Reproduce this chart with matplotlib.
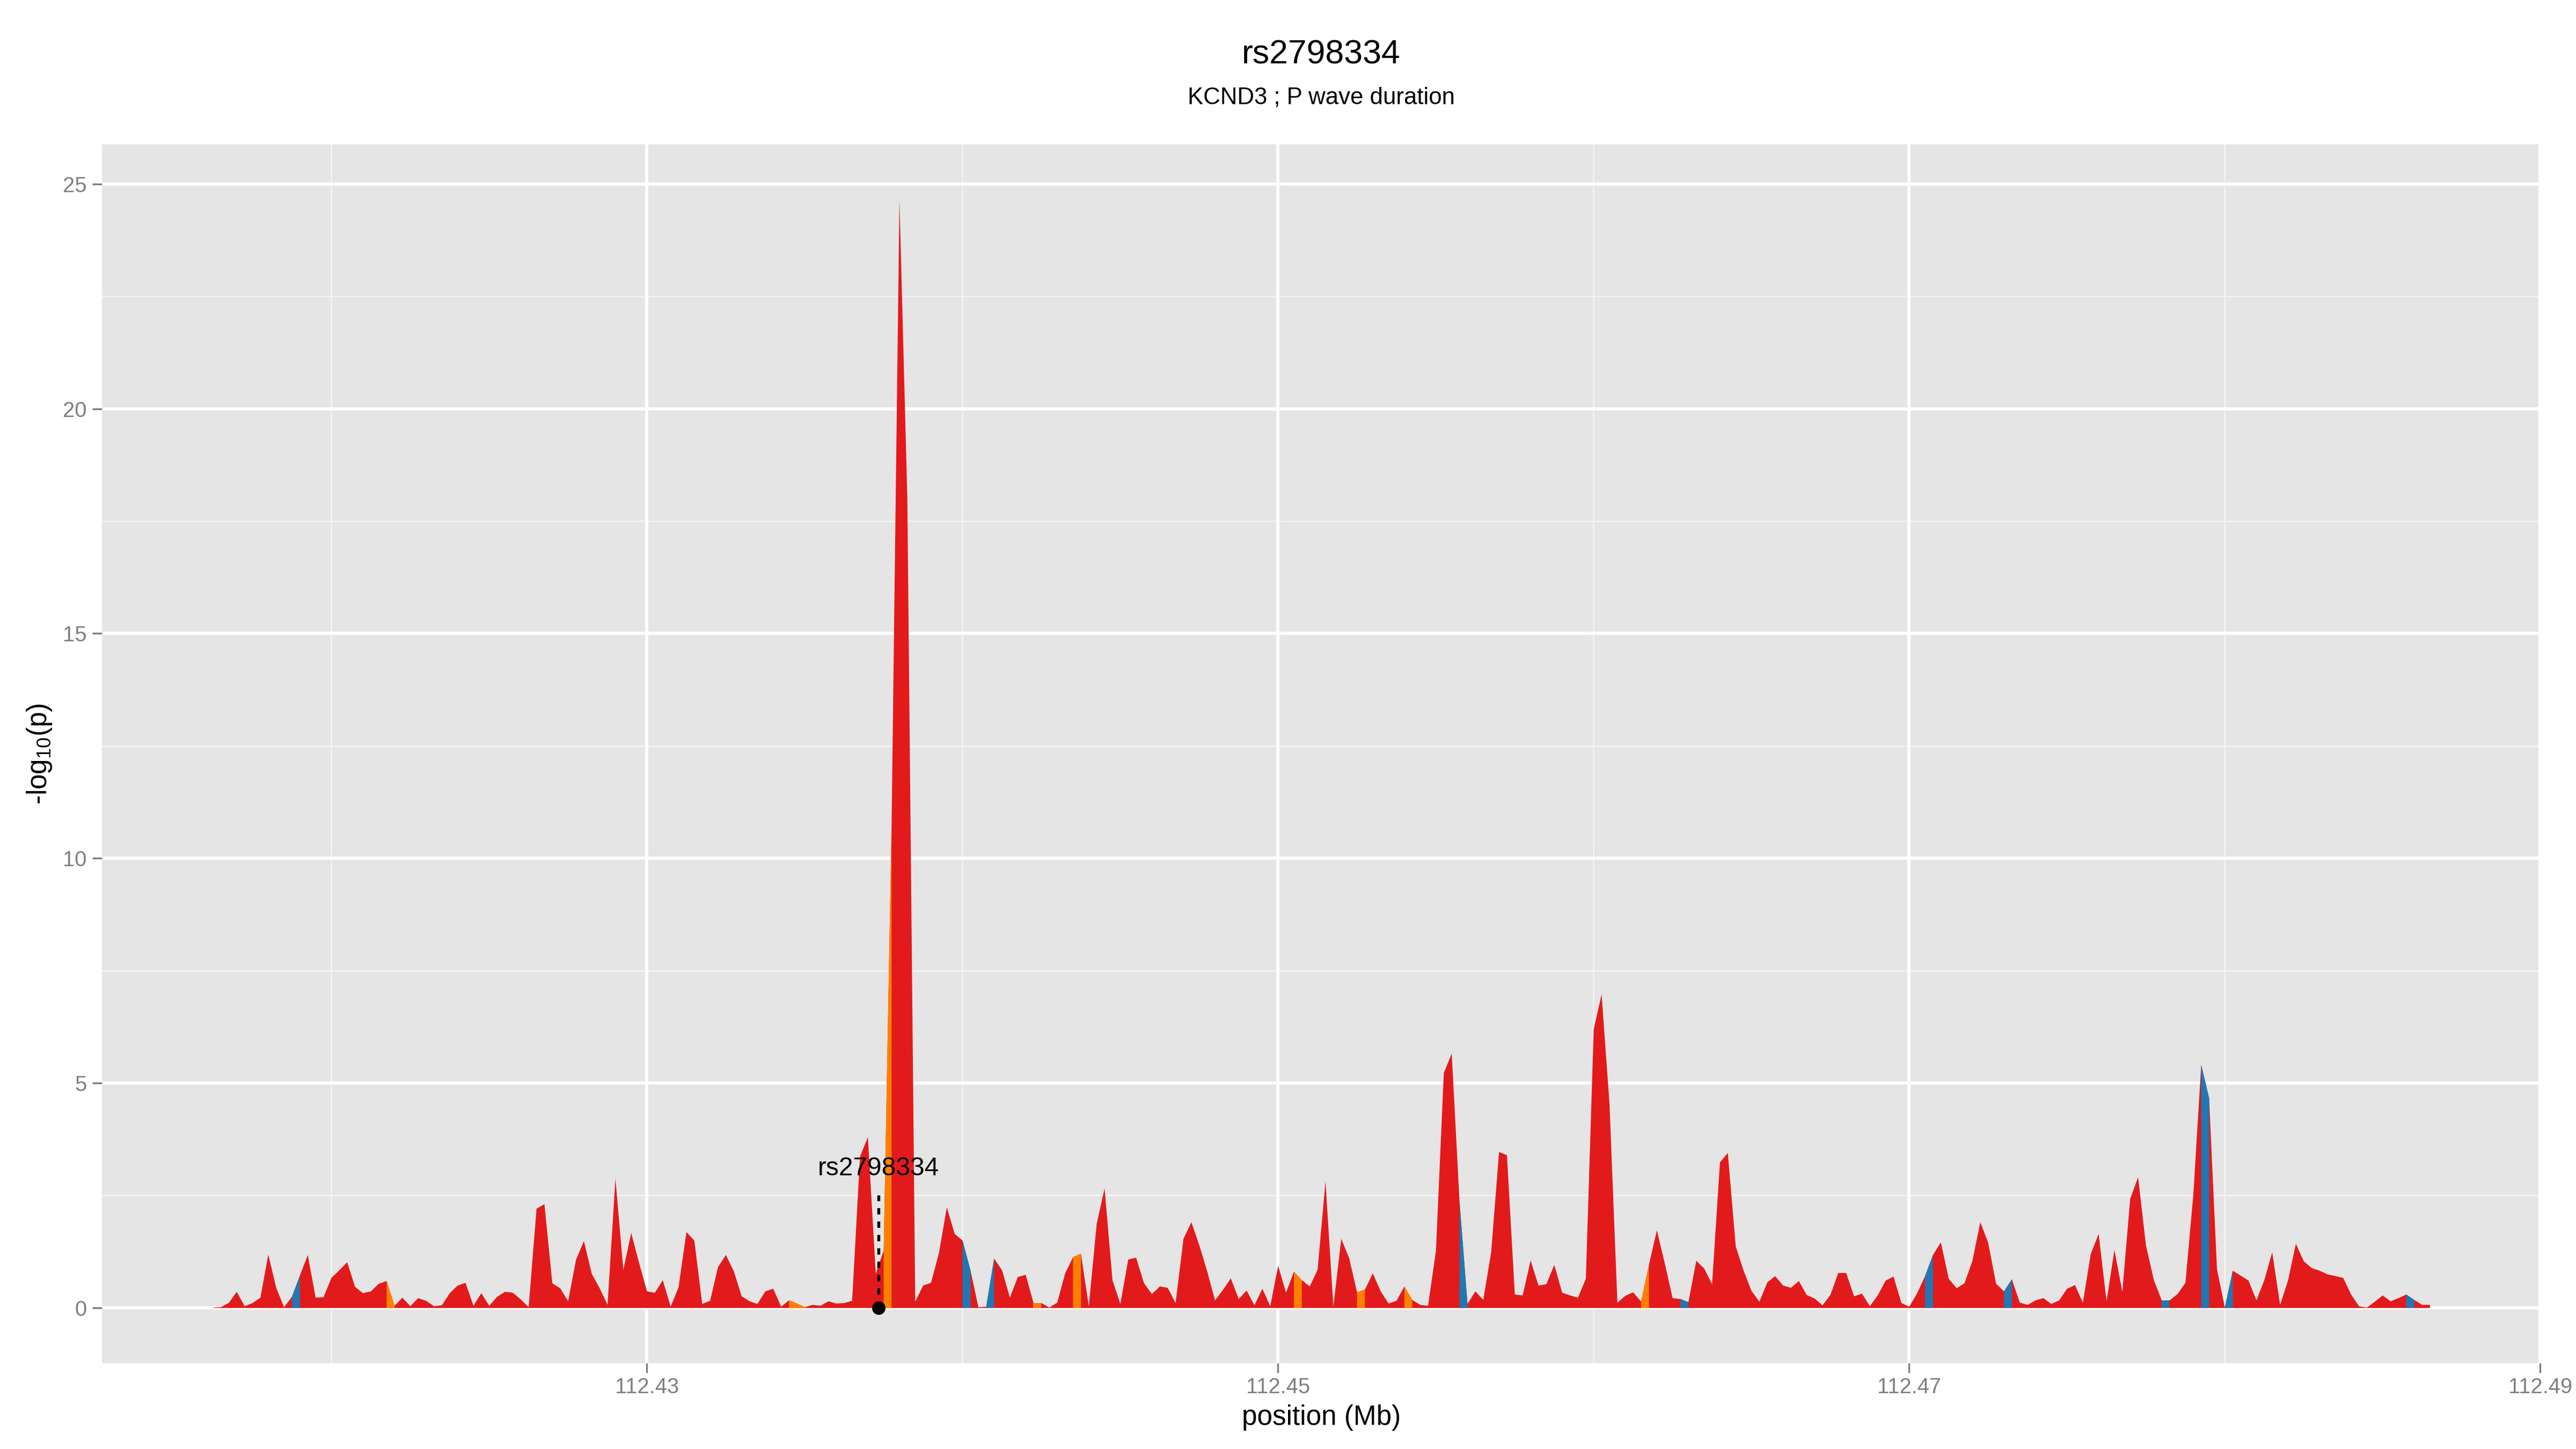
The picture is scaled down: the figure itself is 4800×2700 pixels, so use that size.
import numpy as np
import matplotlib
matplotlib.use('Agg')
import matplotlib.pyplot as plt
from matplotlib.ticker import FixedLocator, FixedFormatter

plt.rcParams['font.family'] = ['Liberation Sans', 'DejaVu Sans']
plt.rcParams['mathtext.fontset'] = 'custom'
plt.rcParams['mathtext.rm'] = 'Liberation Sans'
plt.rcParams['mathtext.it'] = 'Liberation Sans:italic'

# ---------------- data ----------------
title = 'rs2798334'
subtitle = 'KCND3 ; P wave duration'
x_label = 'position (Mb)'
y_label = r'-log$_{\mathregular{10}}$(p)'

pos_start_mb = 112.41625   # first SNP position (Mb)
pos_step_mb = 0.00025      # spacing of SNP grid (Mb)

logp = [
    0.01, 0.02, 0.115, 0.36, 0.04, 0.11, 0.23, 1.19, 0.45, 0.02,
    0.25, 0.72, 1.18, 0.23, 0.24, 0.67, 0.84, 1.02, 0.47, 0.33,
    0.37, 0.54, 0.60, 0.05, 0.23, 0.04, 0.22, 0.16, 0.04, 0.06,
    0.33, 0.50, 0.56, 0.05, 0.33, 0.05, 0.25, 0.36, 0.34, 0.19,
    0.02, 2.21, 2.31, 0.55, 0.44, 0.15, 1.07, 1.49, 0.76, 0.44,
    0.07, 2.88, 0.85, 1.67, 1.00, 0.37, 0.34, 0.62, 0.03, 0.46,
    1.69, 1.50, 0.09, 0.16, 0.91, 1.18, 0.82, 0.26, 0.15, 0.09,
    0.37, 0.43, 0.03, 0.17, 0.10, 0.02, 0.07, 0.05, 0.15, 0.10,
    0.11, 0.16, 3.37, 3.80, 0.76, 1.28, 10.7, 24.65, 18.0, 0.14,
    0.50, 0.56, 1.22, 2.24, 1.65, 1.50, 0.84, 0.02, 0.03, 1.10,
    0.84, 0.23, 0.69, 0.74, 0.11, 0.11, 0.01, 0.12, 0.77, 1.13,
    1.21, 0.04, 1.87, 2.66, 0.62, 0.09, 1.08, 1.12, 0.55, 0.31,
    0.48, 0.45, 0.11, 1.54, 1.91, 1.40, 0.82, 0.17, 0.40, 0.66,
    0.20, 0.39, 0.06, 0.43, 0.04, 0.94, 0.34, 0.81, 0.62, 0.48,
    0.85, 2.82, 0.03, 1.54, 1.11, 0.35, 0.41, 0.77, 0.37, 0.10,
    0.16, 0.48, 0.18, 0.07, 0.05, 1.27, 5.23, 5.66, 2.35, 0.09,
    0.37, 0.18, 1.24, 3.47, 3.40, 0.30, 0.28, 1.06, 0.50, 0.53,
    0.96, 0.34, 0.28, 0.23, 0.65, 6.20, 6.98, 4.54, 0.12, 0.27,
    0.35, 0.14, 0.96, 1.73, 1.00, 0.22, 0.20, 0.13, 1.05, 0.88,
    0.53, 3.24, 3.45, 1.37, 0.83, 0.38, 0.14, 0.57, 0.71, 0.50,
    0.45, 0.60, 0.29, 0.21, 0.06, 0.29, 0.78, 0.78, 0.26, 0.32,
    0.04, 0.28, 0.61, 0.70, 0.11, 0.03, 0.33, 0.71, 1.18, 1.46,
    0.65, 0.44, 0.55, 1.05, 1.91, 1.45, 0.54, 0.37, 0.64, 0.12,
    0.07, 0.17, 0.22, 0.09, 0.17, 0.43, 0.51, 0.12, 1.20, 1.65,
    0.15, 1.29, 0.36, 2.43, 2.91, 1.39, 0.62, 0.17, 0.17, 0.31,
    0.56, 2.52, 5.41, 4.67, 0.86, 0.01, 0.83, 0.72, 0.61, 0.17,
    0.62, 1.24, 0.07, 0.61, 1.43, 1.04, 0.89, 0.83, 0.75, 0.71,
    0.67, 0.30, 0.04, 0.01, 0.14, 0.28, 0.15, 0.22, 0.30, 0.18,
    0.07, 0.07,
]

# SNP intervals (starting index) drawn in the other classes
orange_idx = [22, 73, 74, 85, 104, 109, 137, 145, 151, 181]
blue_idx = [10, 95, 98, 158, 186, 217, 227, 247, 252, 255, 278]

lead_snp = 'rs2798334'
lead_pos_mb = 112.43735
lead_logp = 0.0
lead_line_top = 2.5
lead_label_y = 3.1

x_major = [112.43, 112.45, 112.47, 112.49]
x_minor = [112.42, 112.44, 112.46, 112.48]
y_major = [0, 5, 10, 15, 20, 25]
y_minor = [2.5, 7.5, 12.5, 17.5, 22.5]

# ---------------- styles ----------------
RED = '#E31A1C'
ORANGE = '#FF7F00'
BLUE = '#1F78B4'
PANEL_BG = '#E5E5E5'

y = np.array(logp)
x = pos_start_mb + pos_step_mb * np.arange(len(y))

fig = plt.figure(figsize=(16, 9), dpi=300)
ax = fig.add_axes([190 / 4800, 1 - 2540 / 2700, (4734 - 190) / 4800, (2540 - 269) / 2700])
ax.set_facecolor(PANEL_BG)
for s in ax.spines.values():
    s.set_visible(False)

# grid lines
ax.set_axisbelow(True)
for v in x_minor:
    ax.axvline(v, color='#F2F2F2', lw=0.7, zorder=0)
for v in y_minor:
    ax.axhline(v, color='#F2F2F2', lw=0.7, zorder=0)
for v in x_major:
    ax.axvline(v, color='white', lw=1.45, zorder=0.5)
for v in y_major:
    ax.axhline(v, color='white', lw=1.45, zorder=0.5)

# area
ax.fill_between(x, y, 0, color=RED, lw=0, zorder=2)
for i in orange_idx:
    ax.fill_between(x[i:i + 2], y[i:i + 2], 0, color=ORANGE, lw=0, zorder=3)
for i in blue_idx:
    ax.fill_between(x[i:i + 2], y[i:i + 2], 0, color=BLUE, lw=0, zorder=3)

# lead SNP annotation
ax.plot([lead_pos_mb, lead_pos_mb], [lead_logp, lead_line_top], color='black',
        lw=1.3, ls=(0, (2.2, 2.4)), zorder=5)
ax.plot([lead_pos_mb], [lead_logp], 'o', color='black', ms=5, zorder=6)
ax.text(lead_pos_mb, lead_label_y, lead_snp, ha='center', va='center',
        fontsize=11.5, color='black', zorder=6)

# limits (5% expansion like ggplot)
xr = x.max() - x.min()
ax.set_xlim(x.min() - 0.05 * xr, x.max() + 0.05 * xr)
yr = y.max() - 0
ax.set_ylim(0 - 0.05 * yr, y.max() + 0.05 * yr)

ax.xaxis.set_major_locator(FixedLocator(x_major))
ax.xaxis.set_major_formatter(FixedFormatter(['%.2f' % v for v in x_major]))
ax.yaxis.set_major_locator(FixedLocator(y_major))
ax.yaxis.set_major_formatter(FixedFormatter([str(v) for v in y_major]))
ax.tick_params(axis='both', which='major', length=4.25, width=0.8, color='#7F7F7F',
               labelsize=9.6, labelcolor='#7F7F7F', pad=2.5)
ax.tick_params(axis='x', pad=2.0)

cx = (190 + 4734) / 2 / 4800
fig.text(cx, 1 - 102 / 2700, title, ha='center', va='center', fontsize=15, color='black')
fig.text(cx, 1 - 182 / 2700, subtitle, ha='center', va='center', fontsize=10.5, color='black')
fig.text(cx, 1 - 2641 / 2700, x_label, ha='center', va='center', fontsize=12.3, color='black')
fig.text(73 / 4800, 1 - 1405 / 2700, y_label, ha='center', va='center', rotation=90,
         fontsize=12.3, color='black')

fig.savefig('out.png', dpi=300, facecolor='white')
